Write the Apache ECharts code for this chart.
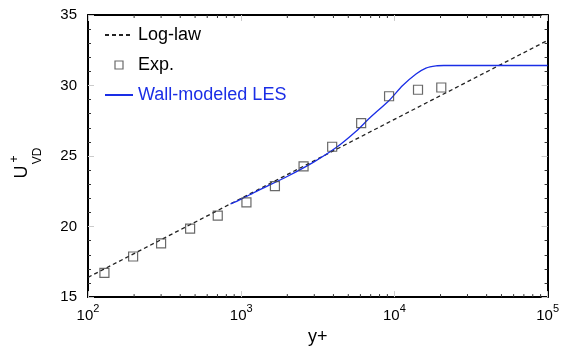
<!DOCTYPE html>
<html>
<head>
<meta charset="utf-8">
<script src="https://cdn.jsdelivr.net/npm/echarts@6/dist/echarts.min.js"></script>
<style>
  html, body { margin: 0; padding: 0; background: #fff; }
  #main { width: 562px; height: 351px; }
</style>
</head>
<body>
<div id="main"></div>
<script>
// log-law line (straight on log axis), two end points
var logLaw = [[100, 16.4], [100000, 33.2]];

// experiment (squares)
var expData = [
    [128, 16.72], [197, 17.88], [300, 18.81], [464, 19.86], [703, 20.78],
    [1082, 21.71], [1660, 22.87], [2553, 24.27], [3924, 25.66], [6067, 27.33],
    [9230, 29.24], [14260, 29.70], [20230, 29.86]
];

// wall-modeled LES curve
var lesData = [
    [851, 21.6], [1000, 21.95], [1259, 22.5], [1995, 23.55], [2951, 24.55],
    [4169, 25.6], [5623, 26.76], [6870, 27.68], [9270, 28.96], [11320, 30.0],
    [13840, 30.82], [16060, 31.24], [18700, 31.40], [21000, 31.42], [100000, 31.42]
];

var yTicks = [15, 20, 25, 30, 35];
// minor ticks of the log axis
var minorX = [200, 300, 400, 500, 600, 700, 800, 900,
    2000, 3000, 4000, 5000, 6000, 7000, 8000, 9000,
    20000, 30000, 40000, 50000, 60000, 70000, 80000, 90000];

var chart = echarts.init(document.getElementById('main'));
var font = 'Liberation Sans, Arial, sans-serif';

var frameAxis = {
    lineStyle: {color: '#000', width: 2}
};
var lineIcon = {opacity: 0};

var option = {
    animation: false,
    grid: {left: 88, right: 14, top: 15, bottom: 49},
    legend: {
        orient: 'vertical',
        left: 99,
        top: 21,
        itemWidth: 28,
        itemHeight: 8,
        itemGap: 12,
        textStyle: {fontFamily: font, fontSize: 18, lineHeight: 18, color: '#000'},
        data: [
            {name: 'Log-law', itemStyle: lineIcon},
            {name: 'Exp.', icon: 'path://M0,0L1,0L1,1L0,1Z',
                itemStyle: {color: 'transparent', borderColor: '#444', borderWidth: 1.2}},
            {name: 'Wall-modeled LES', itemStyle: lineIcon, textStyle: {color: '#1a2ee6'}}
        ]
    },
    xAxis: [{
        type: 'log',
        logBase: 10,
        min: 100,
        max: 100000,
        name: 'y+',
        nameLocation: 'middle',
        nameGap: 22,
        nameTextStyle: {fontFamily: font, fontSize: 18, color: '#000'},
        axisLine: frameAxis,
        axisTick: {inside: true, length: 6, lineStyle: {color: '#ccc'}},
        splitLine: {show: false},
        axisLabel: {
            margin: 6,
            formatter: function (v) {
                return '{b|10}{e|' + Math.round(Math.log10(v)) + '}';
            },
            rich: {
                b: {fontFamily: font, fontSize: 15, color: '#000', verticalAlign: 'bottom', lineHeight: 20},
                e: {fontFamily: font, fontSize: 11, color: '#000', verticalAlign: 'top', lineHeight: 20}
            }
        }
    }, {
        type: 'log',
        logBase: 10,
        min: 100,
        max: 100000,
        position: 'top',
        axisLine: frameAxis,
        axisTick: {inside: true, length: 6, lineStyle: {color: '#ccc'}},
        splitLine: {show: false},
        axisLabel: {show: false}
    }],
    yAxis: [{
        type: 'value',
        min: yTicks[0],
        max: yTicks[yTicks.length - 1],
        interval: 5,
        axisLine: frameAxis,
        axisTick: {inside: true, length: 6, lineStyle: {color: '#ccc'}},
        minorTick: {show: true, splitNumber: 5, length: 3, lineStyle: {color: '#333'}},
        splitLine: {show: false},
        axisLabel: {margin: 11, fontFamily: font, fontSize: 15, color: '#000'}
    }, {
        type: 'value',
        min: yTicks[0],
        max: yTicks[yTicks.length - 1],
        interval: 5,
        position: 'right',
        axisLine: frameAxis,
        axisTick: {inside: true, length: 6, lineStyle: {color: '#ccc'}},
        minorTick: {show: true, splitNumber: 5, length: 3, lineStyle: {color: '#333'}},
        splitLine: {show: false},
        axisLabel: {show: false}
    }],
    graphic: [
        {type: 'text', x: 22.5, y: 172, rotation: Math.PI / 2,
            style: {text: 'U', font: '18px ' + font, fill: '#000', align: 'center', verticalAlign: 'middle'}},
        {type: 'text', x: 15, y: 159, rotation: Math.PI / 2,
            style: {text: '+', font: '12px ' + font, fill: '#000', align: 'center', verticalAlign: 'middle'}},
        {type: 'text', x: 37.5, y: 156, rotation: Math.PI / 2,
            style: {text: 'VD', font: '12px ' + font, fill: '#000', align: 'center', verticalAlign: 'middle'}}
    ],
    series: [{
        name: 'Log-law',
        type: 'line',
        data: logLaw,
        showSymbol: false,
        symbol: 'none',
        lineStyle: {color: '#222', width: 1.3, type: [4, 3]},
        itemStyle: {color: '#222'},
        z: 2
    }, {
        name: 'Exp.',
        type: 'scatter',
        data: expData,
        symbol: 'rect',
        symbolSize: 9,
        itemStyle: {color: 'transparent', borderColor: '#444', borderWidth: 1.2},
        z: 4
    }, {
        name: 'Wall-modeled LES',
        type: 'line',
        data: lesData,
        smooth: 0.25,
        showSymbol: false,
        symbol: 'none',
        lineStyle: {color: '#1a2ee6', width: 1.3},
        itemStyle: {color: '#1a2ee6'},
        z: 3
    }, {
        // log minor ticks on bottom and top frame
        type: 'custom',
        silent: true,
        data: minorX,
        encode: {x: 0},
        renderItem: function (params, api) {
            var x = api.value(0);
            var b = api.coord([x, yTicks[0]]);
            var t = api.coord([x, yTicks[yTicks.length - 1]]);
            var st = {stroke: '#333', lineWidth: 1};
            return {
                type: 'group',
                children: [
                    {type: 'line', shape: {x1: b[0], y1: b[1], x2: b[0], y2: b[1] - 3}, style: st},
                    {type: 'line', shape: {x1: t[0], y1: t[1], x2: t[0], y2: t[1] + 3}, style: st}
                ]
            };
        },
        z: 1
    }]
};

chart.setOption(option);
</script>
</body>
</html>
